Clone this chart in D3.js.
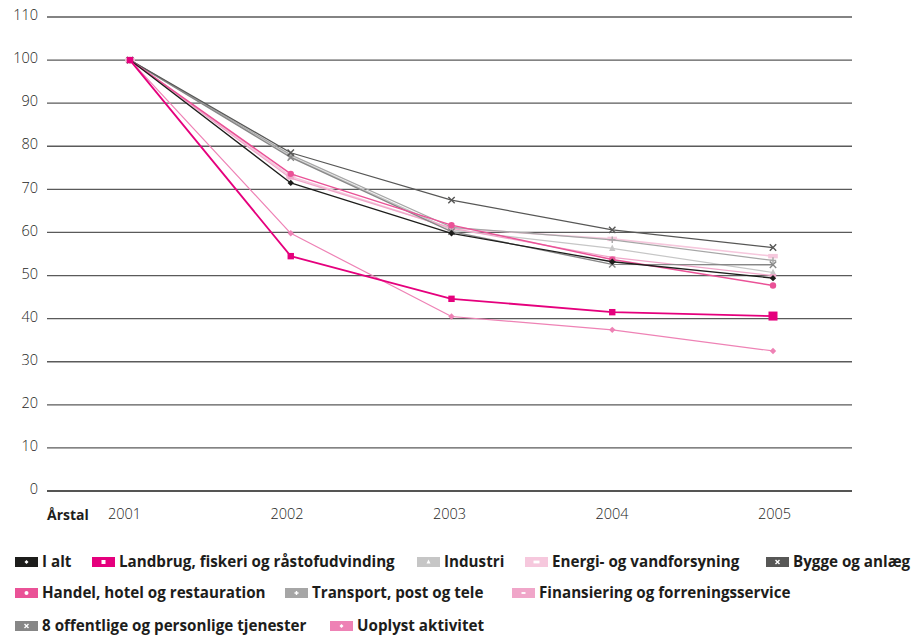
<!DOCTYPE html>
<html><head><meta charset="utf-8">
<script src="https://cdn.jsdelivr.net/npm/d3@7"></script>
<style>
html,body{margin:0;padding:0;background:#fff;}
svg{display:block;}
</style></head>
<body>
<svg id="chart" width="916" height="637"></svg>
<script>
const years = ["2001","2002","2003","2004","2005"];
const yTicks = [0,10,20,30,40,50,60,70,80,90,100,110];
const xTitle = "Årstal";

const seriesNames = [
  "I alt",
  "Landbrug, fiskeri og råstofudvinding",
  "Industri",
  "Energi- og vandforsyning",
  "Bygge og anlæg",
  "Handel, hotel og restauration",
  "Transport, post og tele",
  "Finansiering og forreningsservice",
  "8 offentlige og personlige tjenester",
  "Uoplyst aktivitet"
];
const iAlt         = [100, 71.5, 59.8, 53.2, 49.4];
const landbrug     = [100, 54.5, 44.6, 41.5, 40.6];
const industri     = [100, 77.6, 60.6, 56.3, 50.7];
const energi       = [100, 73.0, 61.0, 58.5, 54.5];
const bygge        = [100, 78.5, 67.5, 60.6, 56.5];
const handel       = [100, 73.6, 61.7, 53.7, 47.7];
const transport    = [100, 78.0, 61.2, 58.3, 53.5];
const finansiering = [100, 72.6, 61.0, 54.2, 50.0];
const offentlige   = [100, 77.4, 60.2, 52.6, 52.5];
const uoplyst      = [100, 59.8, 40.5, 37.4, 32.5];

const seriesValues = [iAlt, landbrug, industri, energi, bygge, handel, transport, finansiering, offentlige, uoplyst];
const colors = ["#1d1d1b","#e5007d","#c6c6c6","#f6c8dd","#575756","#ea5297","#a6a6a6","#f0a6c9","#878787","#ee82b5"];
const markers = ["diamond","square","triangle","bar","x","circle","plus","dash","x","diamond"];
const widths = [1.3,1.8,1.2,1.6,1.2,1.5,1.2,1.2,1.4,1.2];

const svg = d3.select("#chart");
const y = d3.scaleLinear().domain([0,110]).range([491,17]);
const x = d3.scalePoint().domain(years).range([130,773]);
const xl = d3.scalePoint().domain(years).range([124,774]);
const gridLeft = 47, gridRight = 852;

// gridlines
const gy = svg.append("g");
gy.selectAll("line").data(yTicks).join("line")
  .attr("x1",gridLeft).attr("x2",gridRight)
  .attr("y1",d=>y(d)).attr("y2",d=>y(d))
  .attr("stroke",d=>d===0?"#1d1d1b":"#5a5a5a")
  .attr("stroke-width",1.3);

// y axis labels via d3 axis
const yAxis = d3.axisLeft(y).tickValues(yTicks).tickSize(0).tickPadding(0);
const yg = svg.append("g").attr("transform","translate(38,-2)").call(yAxis);
yg.select(".domain").remove();
yg.selectAll("text").attr("font-family","'Open Sans', sans-serif").attr("font-size",14.5).attr("font-weight",300).attr("fill","#1d1d1b");

// x axis labels
const xAxis = d3.axisBottom(xl).tickSize(0).tickPadding(0);
const xg = svg.append("g").attr("transform","translate(0,509)").call(xAxis);
xg.select(".domain").remove();
xg.selectAll("text").attr("font-family","'Open Sans', sans-serif").attr("font-size",14.5).attr("font-weight",300).attr("fill","#1d1d1b");

svg.append("text").attr("x",47).attr("y",520).text(xTitle)
  .attr("font-family","'Open Sans', sans-serif").attr("font-weight",700)
  .attr("font-size",14).attr("fill","#1d1d1b");

function drawMarker(g, type, color, s, cx, cy){
  if(type==="diamond"){
    g.append("path").attr("d",`M${cx},${cy-s}L${cx+s},${cy}L${cx},${cy+s}L${cx-s},${cy}Z`).attr("fill",color);
  } else if(type==="square"){
    g.append("rect").attr("x",cx-s).attr("y",cy-s).attr("width",2*s).attr("height",2*s).attr("fill",color);
  } else if(type==="triangle"){
    g.append("path").attr("d",`M${cx},${cy-s*1.2}L${cx+s},${cy+s*0.8}L${cx-s},${cy+s*0.8}Z`).attr("fill",color);
  } else if(type==="bar"){
    g.append("rect").attr("x",cx-s*1.5).attr("y",cy-s*0.7).attr("width",3*s).attr("height",1.4*s).attr("fill",color);
  } else if(type==="dash"){
    g.append("rect").attr("x",cx-s).attr("y",cy-s*0.45).attr("width",2*s).attr("height",0.9*s).attr("fill",color);
  } else if(type==="circle"){
    g.append("circle").attr("cx",cx).attr("cy",cy).attr("r",s).attr("fill",color);
  } else if(type==="x"){
    g.append("path").attr("d",`M${cx-s},${cy-s}L${cx+s},${cy+s}M${cx-s},${cy+s}L${cx+s},${cy-s}`).attr("stroke",color).attr("stroke-width",1.4).attr("fill","none");
  } else if(type==="plus"){
    g.append("path").attr("d",`M${cx-s},${cy}L${cx+s},${cy}M${cx},${cy-s}L${cx},${cy+s}`).attr("stroke",color).attr("stroke-width",1.4).attr("fill","none");
  }
}

const line = d3.line().x((d,i)=>x(years[i])).y(d=>y(d));
const drawOrder = [2,3,7,6,8,4,5,0,9,1];
const lg = svg.append("g");
drawOrder.forEach(k=>{
  const vals = seriesValues[k];
  lg.append("path").datum(vals).attr("d",line).attr("fill","none")
    .attr("stroke",colors[k]).attr("stroke-width",widths[k]).attr("stroke-linejoin","round");
  const mg = lg.append("g");
  vals.forEach((v,i)=>{
    let s = 3.2;
    if(k===1 && i===4) s = 4.5;
    drawMarker(mg, markers[k], colors[k], s, x(years[i]), y(v));
  });
});

// legend
const legendPos = [
  [15,557],[92,557],[417,557],[525,557],[766,557],
  [15,588],[285,588],[512,588],
  [15,621],[330,621]
];
const leg = svg.append("g");
seriesNames.forEach((name,k)=>{
  const [lx,ly] = legendPos[k];
  const g = leg.append("g");
  g.append("rect").attr("x",lx).attr("y",ly).attr("width",23).attr("height",10).attr("fill",colors[k]);
  drawMarker(g, markers[k], "#fff", 2, lx+11.5, ly+5);
  g.append("text").attr("x",lx+27).attr("y",ly+10).text(name)
    .attr("font-family","'Open Sans', sans-serif").attr("font-weight",700)
    .attr("font-size",15.2).attr("fill","#1d1d1b");
});
</script>
</body></html>
